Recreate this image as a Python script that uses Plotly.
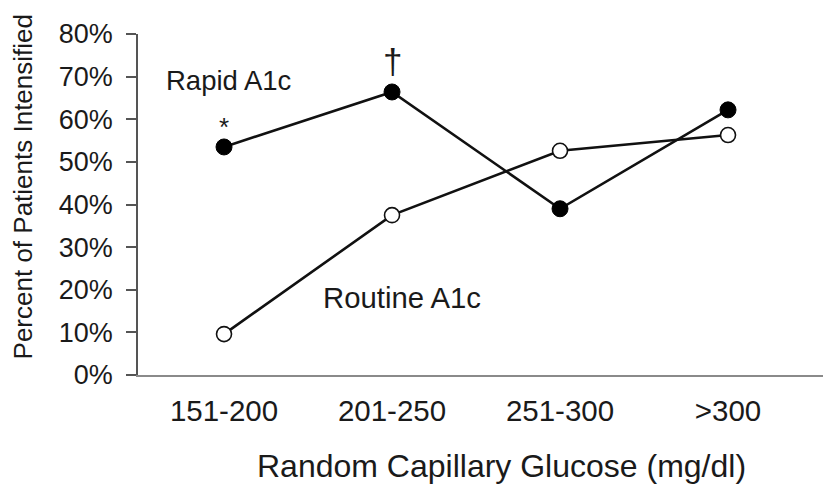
import plotly.graph_objects as go

categories = ["151-200", "201-250", "251-300", ">300"]
rapid = [53.5, 66.4, 39.0, 62.2]
routine = [9.6, 37.5, 52.6, 56.3]
y_ticks = [0, 10, 20, 30, 40, 50, 60, 70, 80]
y_tick_labels = [f"{v}%" for v in y_ticks]

FONT = "Liberation Sans, Arial, sans-serif"
TXT = "#1a1a1a"

fig = go.Figure()
fig.add_trace(go.Scatter(
    x=categories, y=routine, mode="lines+markers", name="Routine A1c",
    line=dict(color="#111111", width=2.6),
    marker=dict(symbol="circle", size=15, color="white", line=dict(color="#111111", width=1.6)),
    cliponaxis=False, showlegend=False))
fig.add_trace(go.Scatter(
    x=categories, y=rapid, mode="lines+markers", name="Rapid A1c",
    line=dict(color="#111111", width=2.6),
    marker=dict(symbol="circle", size=16, color="#000000", line=dict(color="#000000", width=1)),
    cliponaxis=False, showlegend=False))

annots = [
    dict(x=0.03, y=69.2, text="Rapid A1c", size=27.5),
    dict(x=1.06, y=18.3, text="Routine A1c", size=29.3),
    dict(x=0.0, y=58.2, text="*", size=26),
    dict(x=1.0, y=73.5, text="†", size=35),
]
for a in annots:
    fig.add_annotation(x=a["x"], y=a["y"], xref="x", yref="y", text=a["text"],
                       showarrow=False, font=dict(family=FONT, size=a["size"], color=TXT))

fig.add_annotation(x=0.524, y=-0.326, xref="paper", yref="paper",
                   text="Random Capillary Glucose (mg/dl)", showarrow=False,
                   font=dict(family=FONT, size=32, color=TXT))
fig.add_annotation(x=-0.19, y=0.551, xref="paper", yref="paper",
                   text="Percent of Patients Intensified", showarrow=False, textangle=-90,
                   font=dict(family=FONT, size=26, color=TXT))

fig.update_layout(
    width=823, height=478,
    margin=dict(l=130, r=0, t=26, b=111),
    paper_bgcolor="white", plot_bgcolor="white",
    font=dict(family=FONT, color=TXT),
    xaxis=dict(type="category", range=[-0.512, 3.613], showgrid=False, zeroline=False,
               showline=True, linecolor="#8a8a8a", linewidth=2, ticks="",
               tickfont=dict(family=FONT, size=29.5, color=TXT), ticklabelstandoff=9),
    yaxis=dict(range=[0, 80], tickvals=y_ticks, ticktext=y_tick_labels, showgrid=False,
               zeroline=False, showline=True, linecolor="#555555", linewidth=1.5,
               ticks="outside", ticklen=10, tickcolor="#555555", tickwidth=1.5,
               tickfont=dict(family=FONT, size=27, color=TXT), ticklabelstandoff=8),
)

fig.write_html("out.html")
